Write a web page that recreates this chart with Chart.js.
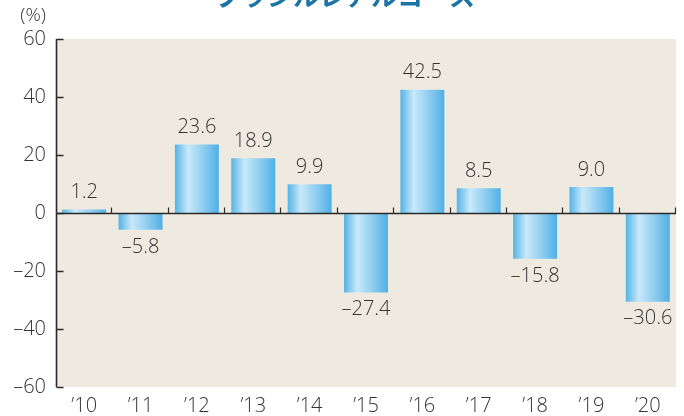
<!DOCTYPE html>
<html>
<head>
<meta charset="utf-8">
<script src="https://cdn.jsdelivr.net/npm/chart.js@4.4.1/dist/chart.umd.min.js"></script>
<style>
  html, body { margin: 0; padding: 0; background: #fff; }
  #wrap { width: 684px; height: 416px; position: relative; }
</style>
</head>
<body>
<div id="wrap"><canvas id="c" width="684" height="416"></canvas></div>
<script>
// data
const years = ["’10", "’11", "’12", "’13", "’14", "’15", "’16", "’17", "’18", "’19", "’20"];
const returns = [1.2, -5.8, 23.6, 18.9, 9.9, -27.4, 42.5, 8.5, -15.8, 9.0, -30.6];
const yTicks = [60, 40, 20, 0, -20, -40, -60];
const title = "ブラジルレアルコース";

const FONT = "'Open Sans', 'Noto Sans', sans-serif";
const TEXT = "#333";
const minus = v => String(v).replace("-", "\u2013");

function barFill(ctx) {
  const chart = ctx.chart;
  const xs = chart.scales.x;
  if (!chart.chartArea || !xs || ctx.dataIndex === undefined) return "#5ab6e6";
  const cw = (xs.right - xs.left) / years.length;
  const cx = xs.getPixelForValue(ctx.dataIndex);
  const w = cw * 0.78;
  const g = chart.ctx.createLinearGradient(cx - w / 2, 0, cx + w / 2, 0);
  g.addColorStop(0, "#55b3e6");
  g.addColorStop(0.3, "#c9e9f9");
  g.addColorStop(0.65, "#8fcdf0");
  g.addColorStop(1, "#4fb0e5");
  return g;
}

const decor = {
  id: "decor",
  beforeDraw(chart) {
    const { ctx, chartArea: a } = chart;
    ctx.save();
    ctx.fillStyle = "#efeae0";
    ctx.fillRect(a.left, a.top, a.right - a.left, a.bottom - a.top);
    ctx.restore();
  },
  afterDatasetsDraw(chart) {
    const { ctx, chartArea: a, scales } = chart;
    const ys = scales.y, xs = scales.x;
    const y0 = Math.round(ys.getPixelForValue(0)) + 0.5;
    ctx.save();
    ctx.strokeStyle = "#2a2a2a";
    ctx.lineWidth = 1.6;
    // zero line
    ctx.beginPath();
    ctx.moveTo(a.left, y0);
    ctx.lineTo(a.right, y0);
    ctx.stroke();
    // category ticks on the zero line
    const cw = (xs.right - xs.left) / years.length;
    ctx.lineWidth = 1.2;
    ctx.beginPath();
    for (let i = 1; i <= years.length; i++) {
      const x = Math.round(xs.left + i * cw) - 0.5;
      ctx.moveTo(x, y0);
      ctx.lineTo(x, y0 - 6);
    }
    ctx.stroke();
    // left axis with inside ticks
    ctx.lineWidth = 1.6;
    ctx.beginPath();
    const xl = a.left + 0.5;
    ctx.moveTo(xl, a.top);
    ctx.lineTo(xl, a.bottom);
    yTicks.forEach(v => {
      const y = Math.round(ys.getPixelForValue(v)) + 0.5;
      ctx.moveTo(xl, y);
      ctx.lineTo(xl + 7, y);
    });
    ctx.stroke();
    ctx.restore();
  },
  afterDraw(chart) {
    const { ctx } = chart;
    const meta = chart.getDatasetMeta(0);
    ctx.save();
    ctx.font = "300 20px " + FONT;
    ctx.fillStyle = TEXT;
    ctx.textAlign = "center";
    ctx.textBaseline = "middle";
    meta.data.forEach((bar, i) => {
      const v = returns[i];
      const y = v >= 0 ? bar.y - 17 : bar.y + 17;
      ctx.fillText(minus(v.toFixed(1)), bar.x, y);
    });
    // unit
    ctx.font = "300 19px " + FONT;
    ctx.textAlign = "right";
    ctx.fillText("(%)", 46, 16);
    // title, cut off at the top
    ctx.font = "bold 26px 'Noto Sans CJK JP', sans-serif";
    ctx.fillStyle = "#1b73a6";
    ctx.textAlign = "center";
    ctx.textBaseline = "alphabetic";
    ctx.fillText(title, 345, 6);
    ctx.restore();
  }
};

new Chart(document.getElementById("c"), {
  type: "bar",
  data: {
    labels: years,
    datasets: [{
      data: returns,
      backgroundColor: barFill,
      borderWidth: 0,
      barPercentage: 0.78,
      categoryPercentage: 1
    }]
  },
  options: {
    responsive: false,
    animation: false,
    layout: { padding: { top: 39, right: 8, left: 0, bottom: 0 } },
    plugins: {
      legend: { display: false },
      tooltip: { enabled: false }
    },
    scales: {
      x: {
        grid: { display: false, drawTicks: false },
        border: { display: false },
        ticks: { color: TEXT, font: { size: 20, family: FONT, weight: 300 }, padding: 7, maxRotation: 0 },
        afterFit: s => { s.height = 29; }
      },
      y: {
        min: -60,
        max: 60,
        grid: { display: false, drawTicks: false },
        border: { display: false },
        ticks: {
          stepSize: 20,
          color: TEXT,
          font: { size: 20, family: FONT, weight: 300 },
          padding: 10,
          callback: v => minus(v)
        },
        afterFit: s => { s.width = 56; }
      }
    }
  },
  plugins: [decor]
});
</script>
</body>
</html>
